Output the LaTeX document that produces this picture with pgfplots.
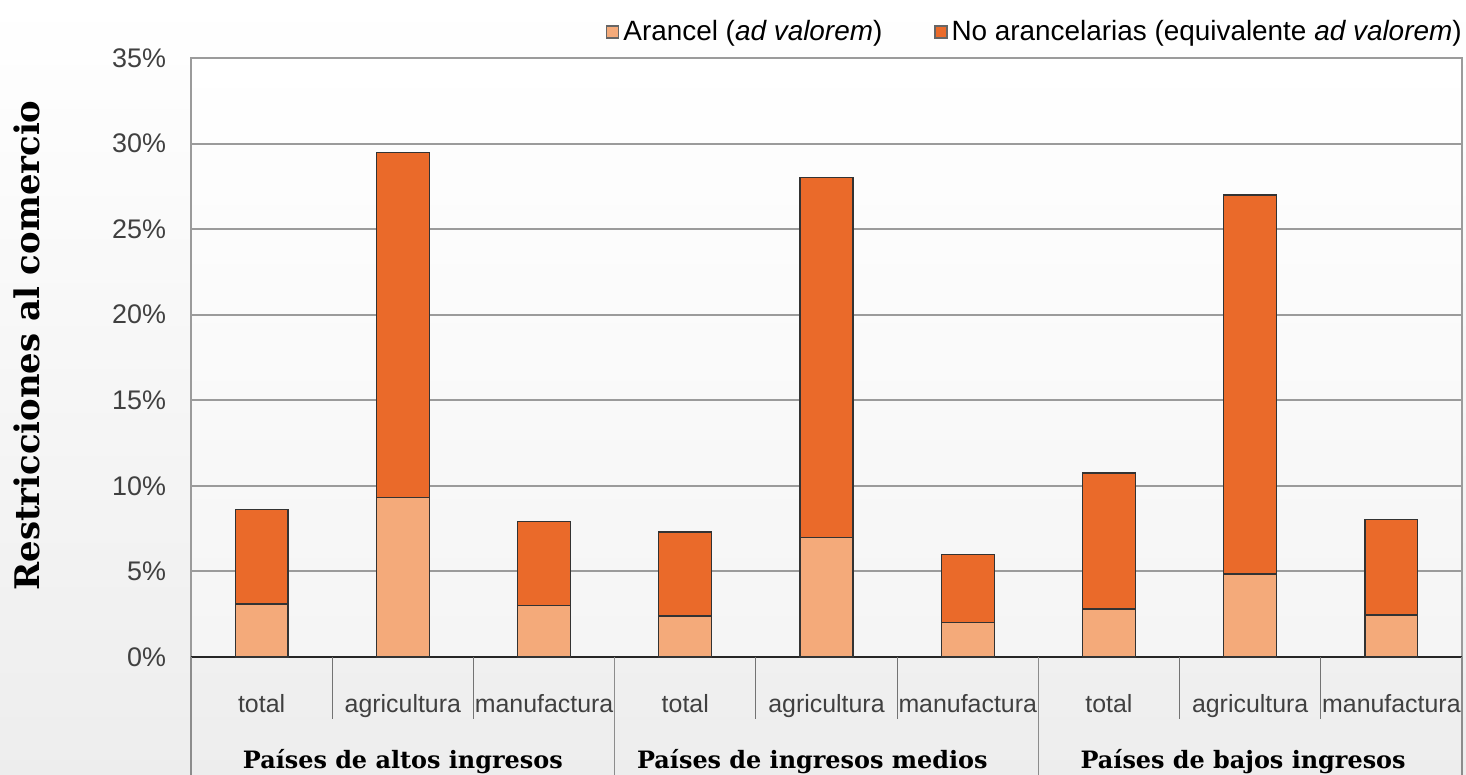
\documentclass[border=0pt]{standalone}
\usepackage{fontspec}
\setmainfont{Liberation Sans}
\newfontfamily\slab{DejaVu Serif}
\usepackage{pgfplots}
\usepackage{pgfplotstable}
\pgfplotsset{compat=1.18}

\definecolor{arancel}{RGB}{244,170,122}
\definecolor{noaran}{RGB}{234,106,42}
\definecolor{gridgray}{RGB}{155,155,155}

% x: 0-2 altos, 3-5 medios, 6-8 bajos (total, agricultura, manufactura)
\pgfplotstableread{
x aran noaran
0 3.1  5.5
1 9.3  20.2
2 3.0  4.9
3 2.4  4.9
4 7.0  21.0
5 2.0  4.0
6 2.8  7.95
7 4.85 22.15
8 2.45 5.6
}\datos

\begin{document}
\begin{tikzpicture}
\useasboundingbox (-95.5bp,-59bp) rectangle (637.5bp,328.5bp);
\shade[top color=white, bottom color=gray!14] (-95.5bp,-59bp) rectangle (637.5bp,328.5bp);
\begin{axis}[
    at={(0,0)}, anchor=south west,
    scale only axis,
    width=635.5bp, height=299.5bp,
    ybar stacked,
    bar width=0.375,
    clip=false,
    xmin=-0.5, xmax=8.5,
    ymin=0, ymax=35,
    ytick={0,5,...,35},
    yticklabels={0\%,5\%,10\%,15\%,20\%,25\%,30\%,35\%},
    xtick={0,...,8},
    xticklabels={total,agricultura,manufactura,total,agricultura,manufactura,total,agricultura,manufactura},
    major tick length=0pt,
    ymajorgrids=true,
    grid style={gridgray, line width=1bp},
    axis line style={gridgray, line width=0.8bp},
    axis background/.style={top color=white, bottom color=gray!8},
    tick label style={font=\fontsize{12.5}{15}\selectfont, text=black!75},
    yticklabel style={anchor=east, xshift=-9bp, font=\fontsize{13.5}{15}\selectfont},
    xticklabel style={anchor=base, yshift=-27.5bp},
    ylabel={Restricciones al comercio},
    ylabel style={font=\slab\bfseries\fontsize{17}{20}\selectfont, at={(axis description cs:-0.129,0.52)}, anchor=center},
    legend style={at={(rel axis cs:1,1)}, anchor=south east, draw=none, fill=none,
        legend columns=2, font=\fontsize{14}{16}\selectfont, yshift=3bp, xshift=5bp,
        /tikz/every even column/.append style={column sep=24bp}},
    legend image code/.code={\draw[#1, draw=black!60] (0bp,-3bp) rectangle (6bp,3bp);},
]
\addplot[fill=arancel, draw=black!80, line width=0.6bp] table[x=x, y=aran] {\datos};
\addlegendentry{Arancel (\textit{ad valorem})}
\addplot[fill=noaran, draw=black!80, line width=0.6bp] table[x=x, y=noaran] {\datos};
\addlegendentry{No arancelarias (equivalente \textit{ad valorem})}

% separadores de categorias y grupos bajo el eje
\pgfplotsinvokeforeach{0.5,1.5,3.5,4.5,6.5,7.5}{
  \draw[black!55, line width=0.6bp] (axis cs:#1,0) -- ++(0bp,-31bp);
}
\pgfplotsinvokeforeach{-0.5,2.5,5.5,8.5}{
  \draw[black!45, line width=0.6bp] (axis cs:#1,0) -- ++(0bp,-59bp);
}
\draw[black!85, line width=1.2bp] (axis cs:-0.5,0) -- (axis cs:8.5,0);

\node[font=\slab\bfseries\fontsize{12}{14}\selectfont, anchor=base] at (axis cs:1,0) [yshift=-55.5bp] {Países de altos ingresos};
\node[font=\slab\bfseries\fontsize{12}{14}\selectfont, anchor=base] at (axis cs:3.9,0) [yshift=-55.5bp] {Países de ingresos medios};
\node[font=\slab\bfseries\fontsize{12}{14}\selectfont, anchor=base] at (axis cs:6.95,0) [yshift=-55.5bp] {Países de bajos ingresos};
\end{axis}
\end{tikzpicture}
\end{document}
